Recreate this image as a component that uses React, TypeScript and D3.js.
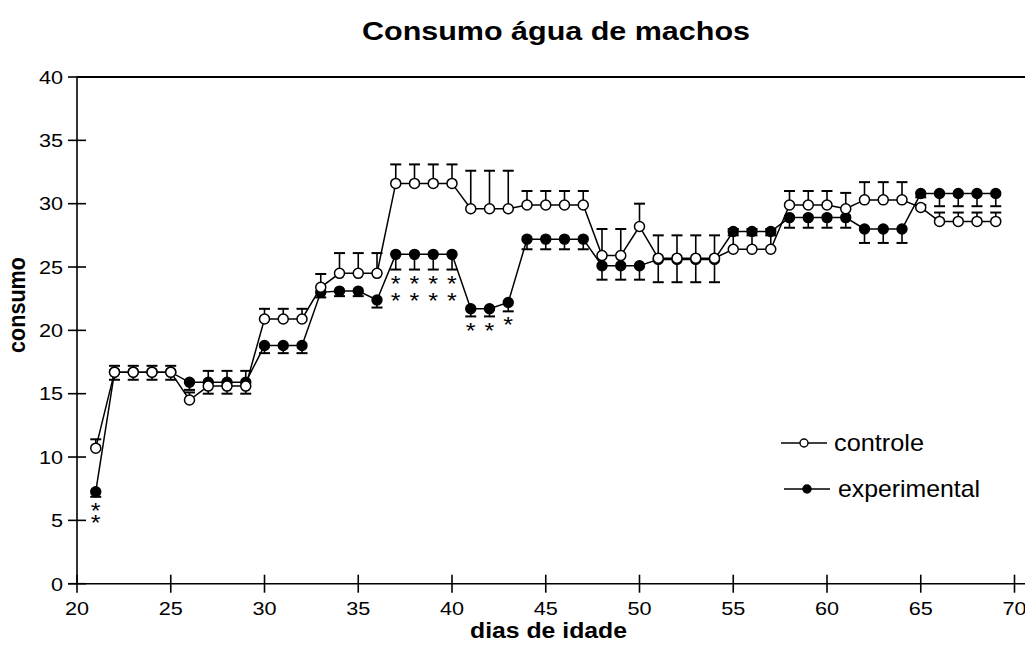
import React from "react";
import * as d3 from "d3";

// Days of age (x) and mean water intake per group, with SEM
const days = d3.range(21, 70);

const controleMean = [
  10.7, 16.7, 16.7, 16.7, 16.7, 14.5, 15.6, 15.6, 15.6, 20.9, 20.9, 20.9, 23.4,
  24.5, 24.5, 24.5, 31.6, 31.6, 31.6, 31.6, 29.6, 29.6, 29.6, 29.9, 29.9, 29.9,
  29.9, 25.9, 25.9, 28.2, 25.7, 25.7, 25.7, 25.7, 26.4, 26.4, 26.4, 29.9, 29.9,
  29.9, 29.6, 30.3, 30.3, 30.3, 29.7, 28.6, 28.6, 28.6, 28.6,
];
const controleSem = [
  0.7, 0.5, 0.5, 0.5, 0.5, 0.6, 1.2, 1.2, 1.2, 0.8, 0.8, 0.8, 1.05, 1.6, 1.6,
  1.6, 1.5, 1.5, 1.5, 1.5, 3.0, 3.0, 3.0, 1.1, 1.1, 1.1, 1.1, 2.1, 2.1, 1.8, 1.8,
  1.8, 1.8, 1.8, 1.6, 1.6, 1.6, 1.1, 1.1, 1.1, 1.25, 1.4, 1.4, 1.4, 0.2, 0.7,
  0.7, 0.7, 0.7,
];
const experimentalMean = [
  7.26, 16.7, 16.7, 16.7, 16.7, 15.9, 15.9, 15.9, 15.9, 18.8, 18.8, 18.8, 23.0,
  23.1, 23.1, 22.4, 26.0, 26.0, 26.0, 26.0, 21.7, 21.7, 22.2, 27.2, 27.2, 27.2,
  27.2, 25.1, 25.1, 25.1, 25.6, 25.6, 25.6, 25.6, 27.8, 27.8, 27.8, 28.9, 28.9,
  28.9, 28.9, 28.0, 28.0, 28.0, 30.8, 30.8, 30.8, 30.8, 30.8,
];
const experimentalSem = [
  0.4, 0.6, 0.6, 0.6, 0.6, 0.6, 0.9, 0.9, 0.9, 0.6, 0.6, 0.6, 0.4, 0.4, 0.4, 0.6,
  1.2, 1.2, 1.2, 1.2, 0.6, 0.6, 0.7, 0.8, 0.8, 0.8, 0.8, 1.1, 1.1, 1.1, 1.8, 1.8,
  1.8, 1.8, 0.3, 0.3, 0.3, 0.8, 0.8, 0.8, 0.8, 1.1, 1.1, 1.1, 0.3, 1.0, 1.0, 1.0,
  1.0,
];

// Significance marks (number of asterisks) under the experimental group
const sigDays = [21, 37, 38, 39, 40, 41, 42, 43];
const sigStars = [2, 2, 2, 2, 2, 1, 1, 1];

const xTicks = [20, 25, 30, 35, 40, 45, 50, 55, 60, 65, 70];
const yTicks = [0, 5, 10, 15, 20, 25, 30, 35, 40];

const titleText = "Consumo água de machos";
const xTitle = "dias de idade";
const yTitle = "consumo";
const legendNames = ["controle", "experimental"];

const FONT = "'Liberation Sans', Arial, Helvetica, sans-serif";
const SX = 1.14; // horizontal text widening

export default function App() {
  const W = 1025;
  const H = 657;
  const x = d3.scaleLinear().domain([20, 70]).range([77, 1014.5]);
  const y = d3.scaleLinear().domain([0, 40]).range([583.7, 77]);

  const ctrl = days.map((d, i) => ({ d, m: controleMean[i], e: controleSem[i] }));
  const expd = days.map((d, i) => ({ d, m: experimentalMean[i], e: experimentalSem[i] }));

  const line = d3
    .line<{ d: number; m: number }>()
    .x((p) => x(p.d))
    .y((p) => y(p.m));

  const R = 5;
  const CAP = 5.5;
  const left = x(20);
  const bottom = y(0);
  const top = y(40);

  const errBars = (pts: { d: number; m: number; e: number }[], dir: number) =>
    pts.map((p, i) => {
      const y0 = y(p.m);
      const y1 = y(p.m + dir * p.e);
      return (
        <g key={i}>
          <line x1={x(p.d)} x2={x(p.d)} y1={y0} y2={y1} stroke="#000" strokeWidth={1.6} />
          <line x1={x(p.d) - CAP} x2={x(p.d) + CAP} y1={y1} y2={y1} stroke="#000" strokeWidth={2} />
        </g>
      );
    });

  return (
    <svg
      width={W}
      height={H}
      style={{ position: "absolute", left: 0, top: 0, background: "#fff" }}
      fontFamily={FONT}
    >
      <rect width={W} height={H} fill="#fff" />
      {/* title */}
      <text
        x={556}
        y={40}
        textAnchor="middle"
        fontSize={26}
        fontWeight="bold"
        textLength={388}
        lengthAdjust="spacingAndGlyphs"
      >
        {titleText}
      </text>

      {/* axes and frame top */}
      <line x1={left} x2={left} y1={top} y2={bottom} stroke="#000" strokeWidth={1.6} />
      <line x1={left - 9} x2={W} y1={bottom} y2={bottom} stroke="#000" strokeWidth={1.6} />
      <line x1={left} x2={W} y1={top} y2={top} stroke="#000" strokeWidth={1.8} />

      {yTicks.map((t) => (
        <g key={"y" + t}>
          <line x1={left - 9} x2={left + 9} y1={y(t)} y2={y(t)} stroke="#000" strokeWidth={1.6} />
          <text
            transform={`translate(${63},${y(t) + 6.8}) scale(${SX},1)`}
            textAnchor="end"
            fontSize={19}
          >
            {t}
          </text>
        </g>
      ))}
      {xTicks.map((t) => (
        <g key={"x" + t}>
          <line x1={x(t)} x2={x(t)} y1={bottom - 9} y2={bottom + 9} stroke="#000" strokeWidth={1.6} />
          <text
            transform={`translate(${x(t)},${615}) scale(${SX},1)`}
            textAnchor="middle"
            fontSize={19}
          >
            {t}
          </text>
        </g>
      ))}

      {/* axis titles */}
      <text
        x={548.5}
        y={638}
        textAnchor="middle"
        fontSize={21.6}
        fontWeight="bold"
        textLength={157}
        lengthAdjust="spacingAndGlyphs"
      >
        {xTitle}
      </text>
      <text
        transform={`translate(25,305) scale(${SX},1) rotate(-90)`}
        textAnchor="middle"
        fontSize={21.6}
        fontWeight="bold"
      >
        {yTitle}
      </text>

      {/* experimental group (filled) */}
      <g>
        {errBars(expd, -1)}
        <path d={line(expd) || ""} fill="none" stroke="#000" strokeWidth={1.5} />
        {expd.map((p, i) => (
          <circle key={i} cx={x(p.d)} cy={y(p.m)} r={R} fill="#000" stroke="#000" strokeWidth={1.4} />
        ))}
      </g>

      {/* controle group (open) */}
      <g>
        {errBars(ctrl, 1)}
        <path d={line(ctrl) || ""} fill="none" stroke="#000" strokeWidth={1.5} />
        {ctrl.map((p, i) => (
          <circle key={i} cx={x(p.d)} cy={y(p.m)} r={R} fill="#fff" stroke="#000" strokeWidth={1.5} />
        ))}
      </g>

      {/* significance asterisks */}
      {sigDays.map((d, i) => {
        const k = days.indexOf(d);
        const base = y(experimentalMean[k] - experimentalSem[k]) + 8.5;
        const gap = d < 30 ? 12 : 17;
        return d3.range(sigStars[i]).map((j) => (
          <text
            key={d + "-" + j}
            transform={`translate(${x(d)},${base + j * gap + 12.6}) scale(${SX},1)`}
            textAnchor="middle"
            fontSize={22}
          >
            *
          </text>
        ));
      })}

      {/* legend */}
      <g>
        <line x1={781} x2={827} y1={443} y2={443} stroke="#000" strokeWidth={1.5} />
        <circle cx={804} cy={443} r={4} fill="#fff" stroke="#000" strokeWidth={1.4} />
        <text x={834} y={451} fontSize={24} textLength={90} lengthAdjust="spacingAndGlyphs">
          {legendNames[0]}
        </text>
        <line x1={784} x2={830} y1={489} y2={489} stroke="#000" strokeWidth={1.5} />
        <circle cx={807} cy={489} r={4} fill="#000" stroke="#000" strokeWidth={1.4} />
        <text x={838} y={497} fontSize={24} textLength={142} lengthAdjust="spacingAndGlyphs">
          {legendNames[1]}
        </text>
      </g>
    </svg>
  );
}
